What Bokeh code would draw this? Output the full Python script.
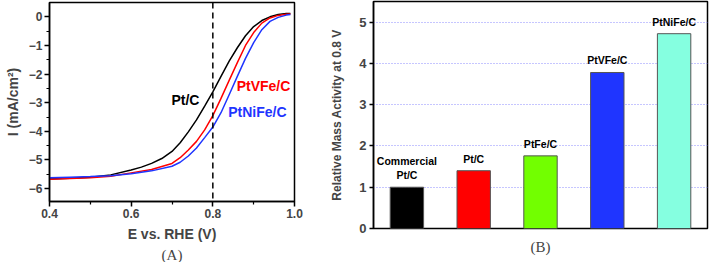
from bokeh.plotting import figure
from bokeh.models import Range1d, FactorRange, Span, Title, FixedTicker, ColumnDataSource
from bokeh.layouts import row
from bokeh.core.properties import value
from bokeh.embed import file_html
from bokeh.resources import INLINE

# ---------------- data: panel A (polarisation curves) ----------------
E_ptc = [0.40, 0.45, 0.50, 0.55, 0.60, 0.625, 0.65, 0.675, 0.70, 0.72, 0.74, 0.76, 0.78,
         0.80, 0.82, 0.84, 0.86, 0.88, 0.90, 0.92, 0.94, 0.96, 0.98, 0.99]
I_ptc = [-5.66, -5.64, -5.60, -5.52, -5.35, -5.25, -5.12, -4.95, -4.70, -4.40, -4.02, -3.60, -3.12,
         -2.62, -2.08, -1.55, -1.08, -0.66, -0.34, -0.13, 0.00, 0.08, 0.12, 0.12]

E_ptvfe = [0.40, 0.45, 0.50, 0.55, 0.60, 0.65, 0.70, 0.72, 0.74, 0.76, 0.78, 0.80, 0.82, 0.84,
           0.86, 0.88, 0.90, 0.92, 0.94, 0.96, 0.98, 0.99]
I_ptvfe = [-5.67, -5.65, -5.62, -5.57, -5.45, -5.33, -5.12, -4.92, -4.65, -4.35, -3.95, -3.45,
           -2.85, -2.22, -1.60, -1.00, -0.55, -0.22, -0.04, 0.05, 0.09, 0.10]

E_ptnife = [0.40, 0.45, 0.50, 0.55, 0.60, 0.65, 0.70, 0.72, 0.74, 0.76, 0.78, 0.80, 0.82, 0.84,
            0.86, 0.88, 0.90, 0.92, 0.94, 0.96, 0.98, 0.99]
I_ptnife = [-5.62, -5.60, -5.58, -5.55, -5.48, -5.38, -5.22, -5.08, -4.86, -4.58, -4.22, -3.85,
            -3.35, -2.72, -2.08, -1.45, -0.90, -0.45, -0.16, -0.02, 0.06, 0.08]

x_ticks_A = [0.4, 0.6, 0.8, 1.0]
y_ticks_A = [0, -1, -2, -3, -4, -5, -6]

# ---------------- data: panel B (mass activity) ----------------
catalysts = ["Commercial Pt/C", "Pt/C", "PtFe/C", "PtVFe/C", "PtNiFe/C"]
bar_labels = ["Commercial\nPt/C", "Pt/C", "PtFe/C", "PtVFe/C", "PtNiFe/C"]
activity = [1.0, 1.4, 1.76, 3.78, 4.72]
bar_colors = ["#000000", "#ff0000", "#72ff00", "#1f35ff", "#85ffe0"]
y_ticks_B = [0, 1, 2, 3, 4, 5]

SANS = "Liberation Sans"
SERIF = "Liberation Serif"

# ================= panel A =================
pa = figure(width=326, height=262, output_backend="svg", toolbar_location=None,
            x_range=Range1d(0.4, 1.0), y_range=Range1d(-6.45, 0.5),
            min_border_left=49, min_border_right=32, min_border_top=2, min_border_bottom=61,
            frame_align=False)
pa.grid.visible = False
pa.outline_line_color = "black"
pa.outline_line_width = 1.5

pa.line(E_ptc, I_ptc, line_color="black", line_width=1.5)
pa.line(E_ptvfe, I_ptvfe, line_color="#ff0000", line_width=1.5)
pa.line(E_ptnife, I_ptnife, line_color="#1f35ff", line_width=1.5)

pa.add_layout(Span(location=0.8, dimension="height", line_color="black",
                   line_width=1.5, line_dash="6 4"))

for txt, ex, iy, col in [("Pt/C", 0.733, -2.9, "black"),
                         ("PtVFe/C", 0.924, -2.41, "#ff0000"),
                         ("PtNiFe/C", 0.909, -3.32, "#1f35ff")]:
    pa.text(x=[ex], y=[iy], text=[txt], text_color=col, text_font=value(SANS),
            text_font_style="bold", text_font_size="14px",
            text_align="center", text_baseline="middle")

for ax in (pa.xaxis[0], pa.yaxis[0]):
    ax.axis_line_width = 1.5
    ax.major_tick_line_width = 1.5
    ax.minor_tick_line_width = 1.2
    ax.major_tick_in = 0
    ax.major_tick_out = 5
    ax.minor_tick_in = 0
    ax.minor_tick_out = 3
    ax.major_label_text_font = SANS
    ax.major_label_text_font_style = "bold"
    ax.major_label_text_font_size = "12px"
    ax.axis_label_text_font = SANS
    ax.axis_label_text_font_style = "bold"
    ax.axis_label_text_font_size = "14px"
    ax.major_label_standoff = 2

pa.xaxis.ticker = FixedTicker(ticks=x_ticks_A, minor_ticks=[0.5, 0.7, 0.9])
pa.yaxis.ticker = FixedTicker(ticks=y_ticks_A, minor_ticks=[-0.5, -1.5, -2.5, -3.5, -4.5, -5.5])
pa.xaxis.major_label_overrides = {0.4: "0.4", 0.6: "0.6", 0.8: "0.8", 1.0: "1.0"}
pa.xaxis.axis_label = "E vs. RHE (V)"
pa.yaxis.axis_label = "I (mA/cm²)"
pa.xaxis.axis_label_standoff = 5
pa.yaxis.axis_label_standoff = 5

pa.add_layout(Title(text="(A)", align="center", text_font=SERIF, text_font_style="normal",
                    text_font_size="15px", standoff=0), "below")

# ================= panel B =================
pb = figure(width=386, height=262, output_backend="svg", toolbar_location=None,
            x_range=FactorRange(*catalysts), y_range=Range1d(0, 5.5),
            min_border_left=47, min_border_right=5, min_border_top=1, min_border_bottom=32,
            frame_align=False)
pb.outline_line_color = "black"
pb.outline_line_width = 1.5
pb.xgrid.visible = False
pb.ygrid.grid_line_color = "#8c8cff"
pb.ygrid.grid_line_dash = "1 2"
pb.ygrid.grid_line_width = 1
pb.xaxis.visible = False

src = ColumnDataSource(dict(cat=catalysts, val=activity, col=bar_colors, lab=bar_labels))
pb.vbar(x="cat", top="val", width=0.5, bottom=0, fill_color="col",
        line_color="#555555", line_width=1, source=src)
pb.text(x="cat", y="val", text="lab", source=src, text_font=value(SANS),
        text_font_style="bold", text_font_size="10.5px", text_align="center",
        text_baseline="bottom", y_offset=-6, text_line_height=1.15)

ay = pb.yaxis[0]
ay.ticker = FixedTicker(ticks=y_ticks_B, minor_ticks=[])
ay.axis_line_width = 1.5
ay.major_tick_line_width = 1.5
ay.major_tick_in = 0
ay.major_tick_out = 4
ay.major_label_text_font = SANS
ay.major_label_text_font_style = "bold"
ay.major_label_text_font_size = "13px"
ay.major_label_standoff = 3
ay.axis_label = "Relative Mass Activity at 0.8 V"
ay.axis_label_text_font = SANS
ay.axis_label_text_font_style = "bold"
ay.axis_label_text_font_size = "12px"
ay.axis_label_standoff = 12

pb.add_layout(Title(text="(B)", align="center", text_font=SERIF, text_font_style="normal",
                    text_font_size="15px", standoff=16), "below")

layout = row(pa, pb, spacing=0)
open("out.html", "w").write(file_html(layout, INLINE))
